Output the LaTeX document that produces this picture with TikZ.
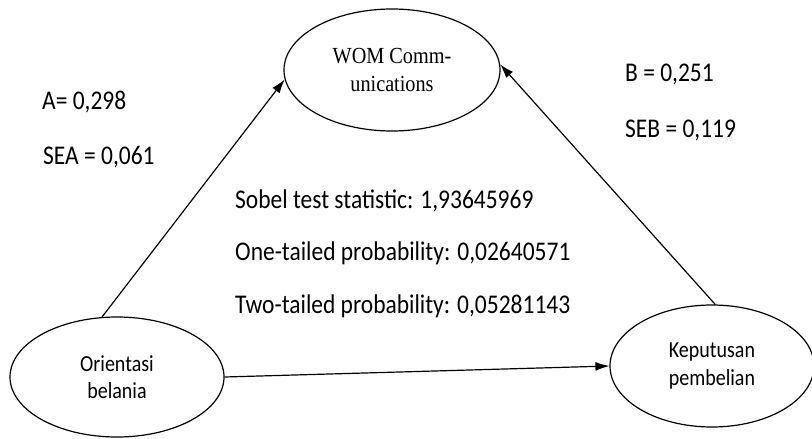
\documentclass[tikz,border=0pt]{standalone}
\usepackage{fontspec}
\setmainfont{Carlito}[FakeStretch=0.87]
\newfontfamily\womfont{Liberation Serif}[FakeStretch=0.88]
\usetikzlibrary{shapes.geometric,arrows.meta}

\begin{document}
\begin{tikzpicture}[x=1pt,y=-1pt,
   var/.style={draw,ellipse,line width=1.2pt,inner sep=0pt,align=center},
   link/.style={black,-{Latex[length=14pt,width=9pt]},line width=1.2pt},
   stat/.style={anchor=base west,inner sep=0pt,font=\fontsize{27}{32}\selectfont}]
   \useasboundingbox (0,0) rectangle (812,439);
   \node[var,minimum width=216pt,minimum height=122pt,font=\womfont\fontsize{23}{28}\selectfont] (wom) at (392,70) {WOM Comm-\\unications};
   \node[var,minimum width=214pt,minimum height=120pt,font=\fontsize{23}{27}\selectfont] (orient) at (117,377) {Orientasi\\belania};
   \node[var,minimum width=204pt,minimum height=122pt,font=\fontsize{23}{28}\selectfont] (keput) at (712,366) {Keputusan\\pembelian};
   \draw[link] (orient.104) -- (wom.185);
   \draw[link] (keput.87) -- (wom.3);
   \draw[link] (orient.east) -- (keput.west);
   \node[stat] (a) at (42,109) {A= 0,298};
   \node[stat] (sea) at (43,164) {SEA = 0,061};
   \node[stat] (b) at (625,81) {B = 0,251};
   \node[stat] (seb) at (625,137) {SEB = 0,119};
   \node[stat] (sobel) at (235,208) {Sobel test statistic: 1,93645969};
   \node[stat] (onetail) at (235,260) {One-tailed probability: 0,02640571};
   \node[stat] (twotail) at (235,313) {Two-tailed probability: 0,05281143};
\end{tikzpicture}
\end{document}
